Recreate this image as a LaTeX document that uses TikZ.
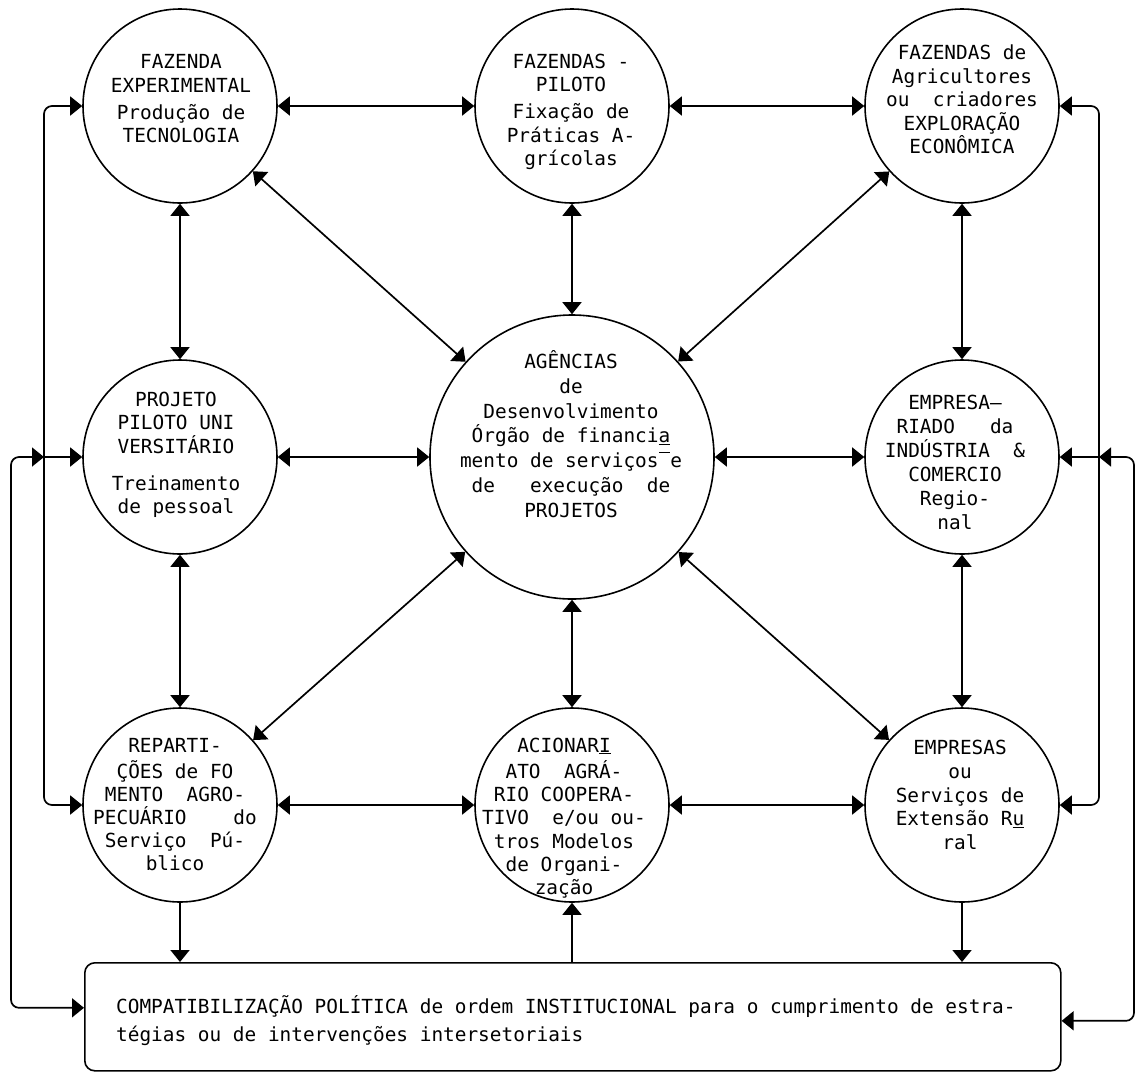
\documentclass[tikz,border=0pt]{standalone}
\usepackage{fontspec}
\newfontfamily\twfont{DejaVu Sans Mono}
\usetikzlibrary{arrows.meta}
\newcommand\myobar{\makebox[0.602em][c]{\rule[0.74em]{0.56em}{0.9pt}}}
\begin{document}
\begin{tikzpicture}[x=1pt,y=-1pt,
  >={Triangle[length=12pt,width=19pt]},
  link/.style={line width=1.7pt},
  circ/.style={draw,circle,line width=1.6pt,minimum size=194pt,inner sep=0pt},
  hubcirc/.style={circ,minimum size=284pt},
  txt/.style={font=\twfont\fontsize{19.4}{#1}\selectfont,align=center,inner sep=0pt},
  txt/.default=23.5]
\useasboundingbox (0,0) rectangle (1137,1072);

% circles
\node[circ] (TL) at (180,106) {};
\node[circ] (TC) at (572,106) {};
\node[circ] (TR) at (962,106) {};
\node[circ] (ML) at (180,457) {};
\node[hubcirc] (C) at (572,457) {};
\node[circ] (MR) at (962,457) {};
\node[circ] (BL) at (180,805) {};
\node[circ] (BC) at (572,805) {};
\node[circ] (BR) at (962,805) {};

% bottom box
\node[draw,line width=1.6pt,rounded corners=10pt,minimum width=976pt,minimum height=108pt,anchor=north west,inner sep=0pt] (Box) at (84,962) {};

% texts
\node[txt] (TLt) at (181,100.8) {\strut FAZENDA\\EXPERIMENTAL\\[3.5pt]Produção de\\TECNOLOGIA\strut};
\node[txt] (TCt) at (571,112.5) {\strut FAZENDAS -\\PILOTO\\[3.5pt]Fixação de\\Práticas A-\\grícolas\strut};
\node[txt] (TRt) at (962,101.8) {\strut FAZENDAS de\\Agricultores\\ou~~criadores\\EXPLORAÇÃO\\ECONÔMICA\strut};
\node[txt] (MLt) at (176,455.5) {\strut PROJETO\\PILOTO UNI\\VERSITÁRIO\\[13.5pt]Treinamento\\de pessoal\strut};
\node[txt=24.7] (Ct) at (571,437.6) {\strut AGÊNCIAS\\de\\Desenvolvimento\\Órgão de financi\underline{a}\\mento de serviços\myobar e\\de~~~execução~~de\\PROJETOS\strut};
\node[txt=24] (MRt) at (955,464.7) {\strut EMPRESA—\\RIADO~~~da\\INDÚSTRIA~~\&\\COMERCIO\\Regio-\\nal\strut};
\node[txt=23.2] (BLt) at (175,806.9) {\strut REPARTI-\\ÇÕES de FO\\MENTO~~AGRO-\\PECUÁRIO~~~~do\\Serviço~~Pú-\\blico\strut};
\node[txt=23.3] (BCt) at (564,818.8) {\strut ACIONAR\underline{I}\\ATO~~AGRÁ-\\RIO COOPERA-\\TIVO~~e/ou ou-\\tros Modelos\\de Organi-\\zação\strut};
\node[txt=23.75] (BRt) at (960,797.3) {\strut EMPRESAS\\ou\\Serviços de\\Extensão R\underline{u}\\ral\strut};
\node[txt=28,align=left,anchor=west] (Boxt) at (116,1021.9) {\strut COMPATIBILIZAÇÃO POLÍTICA de ordem INSTITUCIONAL para o cumprimento de estra-\\tégias ou de intervenções intersetoriais\strut};

% helper coordinates
\coordinate (Li) at (44,0);
\coordinate (Lo) at (11,0);
\coordinate (Ri) at (1099,0);
\coordinate (Ro) at (1134,0);
\coordinate (Lj) at (ML.west -| Li);
\coordinate (Rj) at (MR.east -| Ri);
\coordinate (BoxL) at ([yshift=9pt]Box.west);
\coordinate (BoxR) at ([yshift=-4pt]Box.east);

% grid connectors
\draw[link,<->] (TL) -- (TC);
\draw[link,<->] (TC) -- (TR);
\draw[link,<->] (ML) -- (C);
\draw[link,<->] (C) -- (MR);
\draw[link,<->] (BL) -- (BC);
\draw[link,<->] (BC) -- (BR);
\draw[link,<->] (TL) -- (ML);
\draw[link,<->] (ML) -- (BL);
\draw[link,<->] (TC) -- (C);
\draw[link,<->] (C) -- (BC);
\draw[link,<->] (TR) -- (MR);
\draw[link,<->] (MR) -- (BR);
\draw[link,<->] (TL) -- (C);
\draw[link,<->] (TR) -- (C);
\draw[link,<->] (BL) -- (C);
\draw[link,<->] (BR) -- (C);

% to the box
\draw[link,->] (BL) -- (BL |- Box.north);
\draw[link,->] (BC |- Box.north) -- (BC);
\draw[link,->] (BR) -- (BR |- Box.north);

% outer loops, left
\draw[link,<->,rounded corners=8pt] (TL.west) -- (TL.west -| Li) -- (BL.west -| Li) -- (BL.west);
\draw[link,->] (Lj) -- (ML.west);
\draw[link,<->,rounded corners=8pt] (Lj) -- (Lj -| Lo) -- (BoxL -| Lo) -- (BoxL);

% outer loops, right
\draw[link,<->,rounded corners=8pt] (TR.east) -- (TR.east -| Ri) -- (BR.east -| Ri) -- (BR.east);
\draw[link,->] (Rj) -- (MR.east);
\draw[link,<->,rounded corners=8pt] (Rj) -- (Rj -| Ro) -- (BoxR -| Ro) -- (BoxR);
\end{tikzpicture}
\end{document}
